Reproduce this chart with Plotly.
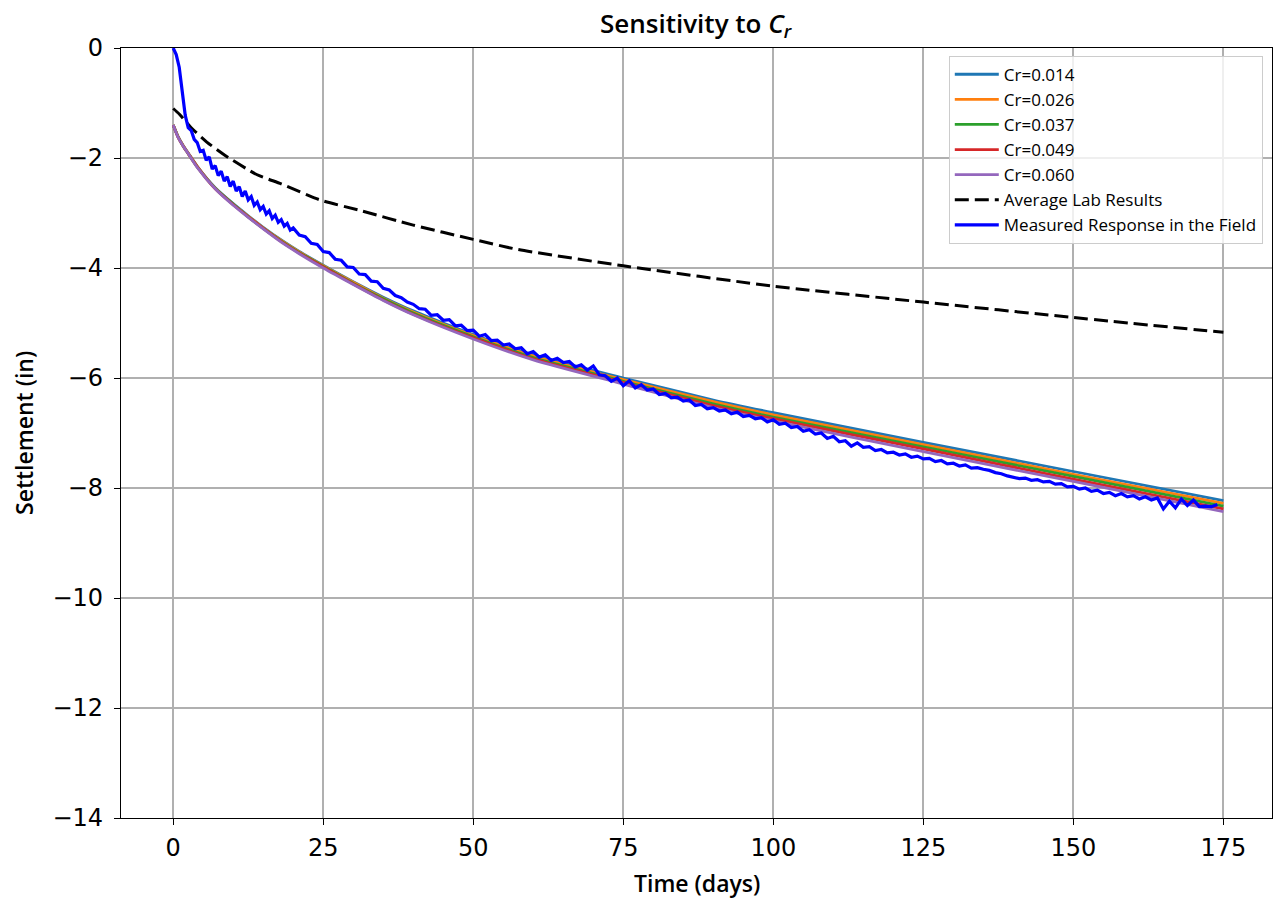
import numpy as np
import plotly.graph_objects as go

# ---------------- data ----------------
t_model = [0, 0.8, 1.7, 2.5, 4, 7, 10, 12.5, 15, 18, 21, 25, 30, 35, 40, 50, 60, 75, 90, 100, 125, 150, 175]

cr_labels = ["Cr=0.014", "Cr=0.026", "Cr=0.037", "Cr=0.049", "Cr=0.060"]
cr_014 = [-1.40, -1.61, -1.78, -1.91, -2.15, -2.54, -2.83, -3.05, -3.26, -3.49, -3.70, -3.95, -4.25, -4.53, -4.78, -5.21, -5.58, -6.00, -6.40, -6.63, -7.17, -7.70, -8.23]
cr_026 = [-1.40, -1.61, -1.78, -1.91, -2.15, -2.55, -2.84, -3.06, -3.27, -3.50, -3.71, -3.96, -4.26, -4.55, -4.80, -5.23, -5.60, -6.03, -6.43, -6.67, -7.21, -7.75, -8.28]
cr_037 = [-1.40, -1.61, -1.79, -1.92, -2.16, -2.55, -2.84, -3.07, -3.28, -3.51, -3.72, -3.97, -4.28, -4.56, -4.82, -5.25, -5.63, -6.06, -6.47, -6.71, -7.25, -7.79, -8.33]
cr_049 = [-1.40, -1.62, -1.79, -1.92, -2.16, -2.56, -2.85, -3.07, -3.28, -3.52, -3.73, -3.98, -4.29, -4.58, -4.84, -5.27, -5.65, -6.08, -6.50, -6.74, -7.29, -7.84, -8.38]
cr_060 = [-1.40, -1.62, -1.79, -1.92, -2.17, -2.56, -2.86, -3.08, -3.29, -3.53, -3.74, -4.00, -4.30, -4.59, -4.85, -5.29, -5.67, -6.11, -6.54, -6.78, -7.34, -7.88, -8.43]
cr_series = [cr_014, cr_026, cr_037, cr_049, cr_060]
cr_colors = ["#1f77b4", "#ff7f0e", "#2ca02c", "#d62728", "#9467bd"]

t_lab = [0, 1, 3, 5.6, 8.6, 13.9, 18, 24.4, 31, 40, 50, 57.3, 75, 100, 125, 150, 175]
lab_avg = [-1.10, -1.20, -1.45, -1.71, -1.95, -2.30, -2.47, -2.76, -2.95, -3.22, -3.48, -3.66, -3.96, -4.33, -4.62, -4.90, -5.17]

t_field = [0.0, 0.5, 1.0, 1.5, 2.0, 2.5, 3.0, 3.5, 4.0, 4.5, 5.0, 5.5, 6.0, 6.5, 7.0, 7.5, 8.0, 8.5, 9.0, 9.5,
           10.0, 10.5, 11.0, 11.5, 12.0, 12.5, 13.0, 13.5, 14.0, 14.5, 15.0, 15.5, 16.0, 16.5, 17.0, 17.5,
           18.0, 18.5, 19.0, 19.5, 20.0] + list(range(21, 175))
field = [0.00, -0.12, -0.35, -0.80, -1.22, -1.45, -1.50, -1.66, -1.72, -1.88, -1.86, -2.04, -1.98, -2.20, -2.14,
         -2.32, -2.24, -2.42, -2.34, -2.52, -2.42, -2.60, -2.52, -2.70, -2.60, -2.76, -2.70, -2.86, -2.80, -2.94,
         -2.88, -3.02, -2.96, -3.10, -3.04, -3.17, -3.12, -3.24, -3.19, -3.31, -3.27,
         -3.40, -3.43, -3.55, -3.57, -3.70, -3.72, -3.84, -3.86, -3.98, -3.99,  # 21-30
         -4.11, -4.12, -4.24, -4.25, -4.37, -4.40, -4.50, -4.54, -4.62, -4.66,  # 31-40
         -4.74, -4.75, -4.86, -4.85, -4.95, -4.94, -5.05, -5.04, -5.14, -5.13,  # 41-50
         -5.24, -5.21, -5.32, -5.31, -5.40, -5.38, -5.47, -5.45, -5.56, -5.52,  # 51-60
         -5.62, -5.58, -5.68, -5.64, -5.72, -5.70, -5.80, -5.76, -5.86, -5.78,  # 61-70
         -5.94, -5.96, -6.06, -6.00, -6.14, -6.05, -6.18, -6.12, -6.22, -6.20,  # 71-80
         -6.30, -6.28, -6.36, -6.35, -6.42, -6.40, -6.50, -6.48, -6.56, -6.54,  # 81-90
         -6.60, -6.58, -6.65, -6.62, -6.70, -6.68, -6.74, -6.72, -6.80, -6.76,  # 91-100
         -6.84, -6.82, -6.90, -6.88, -6.97, -6.94, -7.02, -7.00, -7.10, -7.06,  # 101-110
         -7.16, -7.14, -7.24, -7.18, -7.26, -7.25, -7.32, -7.30, -7.36, -7.35,  # 111-120
         -7.40, -7.38, -7.44, -7.42, -7.47, -7.46, -7.52, -7.50, -7.56, -7.55,  # 121-130
         -7.60, -7.58, -7.64, -7.63, -7.66, -7.68, -7.72, -7.74, -7.78, -7.80,  # 131-140
         -7.83, -7.82, -7.86, -7.85, -7.89, -7.88, -7.93, -7.92, -7.98, -7.97,  # 141-150
         -8.02, -8.00, -8.06, -8.04, -8.10, -8.08, -8.14, -8.10, -8.16, -8.14,  # 151-160
         -8.20, -8.16, -8.22, -8.18, -8.38, -8.24, -8.36, -8.20, -8.32, -8.22,  # 161-170
         -8.34, -8.33, -8.34, -8.30]                                            # 171-174

x_ticks = [0, 25, 50, 75, 100, 125, 150, 175]
y_ticks = [0, -2, -4, -6, -8, -10, -12, -14]

# ---------------- figure ----------------
fig = go.Figure()
for lbl, ys, col in zip(cr_labels, cr_series, cr_colors):
    fig.add_trace(go.Scatter(x=t_model, y=ys, mode="lines", name=lbl,
                             line=dict(color=col, width=2.8, shape="spline", smoothing=0.6)))
fig.add_trace(go.Scatter(x=t_lab, y=lab_avg, mode="lines", name="Average Lab Results",
                         line=dict(color="black", width=3, dash="14px,6px", shape="spline", smoothing=0.6)))
fig.add_trace(go.Scatter(x=t_field, y=field, mode="lines", name="Measured Response in the Field",
                         line=dict(color="#0000ff", width=3.2)))

axis_common = dict(showline=True, linecolor="black", linewidth=1.3, mirror=True,
                   showgrid=True, gridcolor="#b0b0b0", gridwidth=1.6,
                   ticks="outside", ticklen=6, tickwidth=1.3, tickcolor="black",
                   zeroline=False,
                   tickfont=dict(family="DejaVu Sans", size=24, color="black"))

fig.update_layout(
    width=1273, height=899,
    margin=dict(l=121, r=1, t=48, b=81),
    paper_bgcolor="white", plot_bgcolor="white",
    showlegend=True,
    legend=dict(x=0.992, y=0.99, xanchor="right", yanchor="top",
                bgcolor="rgba(255,255,255,0.8)", bordercolor="#cccccc", borderwidth=1,
                font=dict(family="Open Sans", size=17, color="black", weight=500),
                itemwidth=44, tracegroupgap=0),
    xaxis=dict(range=[-8.7, 183.1], tickvals=x_ticks, ticktext=[str(v) for v in x_ticks],
               ticklabelstandoff=2, **axis_common),
    yaxis=dict(range=[-14, 0], tickvals=y_ticks, ticklabelstandoff=6, **axis_common),
    annotations=[
        dict(text="Sensitivity to <i>C<sub>r</sub></i>", xref="paper", yref="paper",
             x=0.5, y=1, yshift=24, xanchor="center", yanchor="middle", showarrow=False,
             font=dict(family="Open Sans", size=26, color="black", weight=600)),
        dict(text="Time (days)", xref="paper", yref="paper", x=0.5, y=0, yshift=-65,
             xanchor="center", yanchor="middle", showarrow=False,
             font=dict(family="Open Sans", size=23, color="black", weight=600)),
        dict(text="Settlement (in)", xref="paper", yref="paper", x=0, xshift=-97, y=0.5,
             xanchor="center", yanchor="middle", showarrow=False, textangle=-90,
             font=dict(family="Open Sans", size=23, color="black", weight=600)),
    ],
)

fig.write_html("out.html")
